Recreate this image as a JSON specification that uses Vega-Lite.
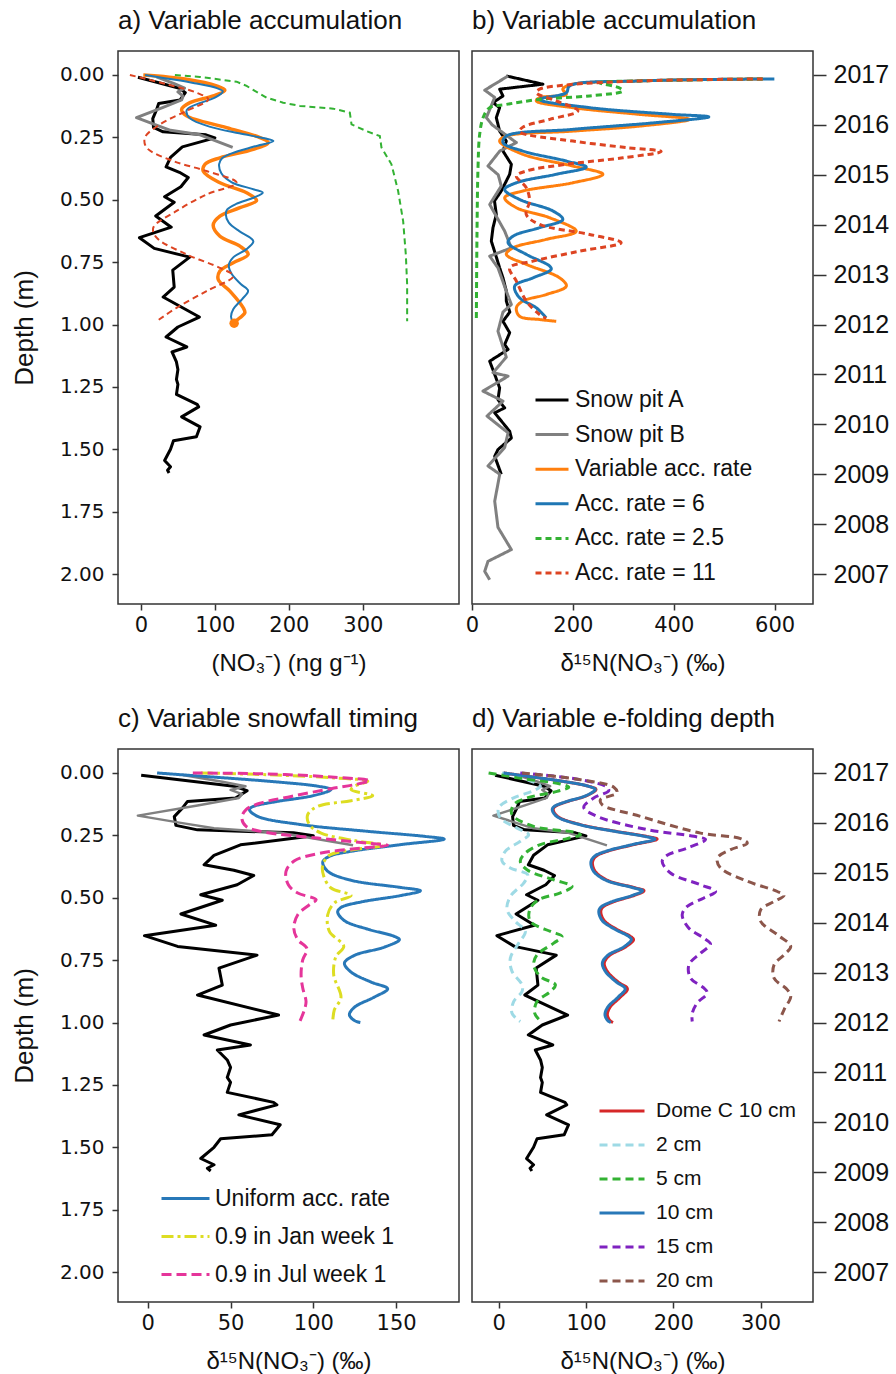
{
"$schema": "https://vega.github.io/schema/vega-lite/v6.json",
"background": "white",
"padding": {"left": 10, "top": 7, "right": 0, "bottom": 0},
"datasets": {
"pitA": [{"x":-4,"d":0.009},{"x":52,"d":0.053},{"x":60,"d":0.071},{"x":53,"d":0.1},{"x":24,"d":0.114},{"x":21,"d":0.14},{"x":16,"d":0.175},{"x":17,"d":0.21},{"x":30,"d":0.228},{"x":88,"d":0.24},{"x":100,"d":0.252},{"x":56,"d":0.288},{"x":40,"d":0.33},{"x":34,"d":0.368},{"x":52,"d":0.39},{"x":64,"d":0.411},{"x":54,"d":0.448},{"x":32,"d":0.488},{"x":45,"d":0.51},{"x":20,"d":0.565},{"x":41,"d":0.61},{"x":-2,"d":0.652},{"x":18,"d":0.695},{"x":66,"d":0.73},{"x":43,"d":0.782},{"x":45,"d":0.85},{"x":30,"d":0.89},{"x":79,"d":0.97},{"x":50,"d":1.01},{"x":34,"d":1.05},{"x":62,"d":1.09},{"x":42,"d":1.11},{"x":48,"d":1.15},{"x":50,"d":1.18},{"x":48,"d":1.22},{"x":50,"d":1.24},{"x":48,"d":1.28},{"x":76,"d":1.32},{"x":78,"d":1.33},{"x":55,"d":1.37},{"x":80,"d":1.41},{"x":75,"d":1.45},{"x":44,"d":1.466},{"x":40,"d":1.5},{"x":32,"d":1.545},{"x":40,"d":1.57},{"x":36,"d":1.584},{"x":38,"d":1.595}],
"pitB": [{"x":21,"d":0.008},{"x":45,"d":0.035},{"x":59,"d":0.053},{"x":50,"d":0.068},{"x":57,"d":0.085},{"x":55,"d":0.1},{"x":30,"d":0.13},{"x":-6,"d":0.171},{"x":20,"d":0.2},{"x":40,"d":0.222},{"x":80,"d":0.24},{"x":124,"d":0.29}],
"blue": [{"x":5.6,"d":0.0},{"x":32.2,"d":0.013},{"x":72.5,"d":0.033},{"x":102.7,"d":0.053},{"x":110.7,"d":0.066},{"x":100.6,"d":0.09},{"x":76.5,"d":0.116},{"x":63.4,"d":0.135},{"x":61.4,"d":0.147},{"x":66.4,"d":0.174},{"x":92.6,"d":0.207},{"x":132.9,"d":0.234},{"x":167.1,"d":0.254},{"x":179.1,"d":0.265},{"x":153,"d":0.287},{"x":122.8,"d":0.314},{"x":109.7,"d":0.334},{"x":105.7,"d":0.357},{"x":108.7,"d":0.394},{"x":122.8,"d":0.43},{"x":153,"d":0.459},{"x":164.7,"d":0.472},{"x":153,"d":0.491},{"x":128.8,"d":0.517},{"x":116.7,"d":0.539},{"x":114.7,"d":0.557},{"x":118.8,"d":0.592},{"x":132.9,"d":0.626},{"x":149,"d":0.655},{"x":152,"d":0.668},{"x":142.9,"d":0.698},{"x":124.8,"d":0.731},{"x":118.8,"d":0.762},{"x":122.8,"d":0.798},{"x":134.9,"d":0.838},{"x":144.9,"d":0.865},{"x":136.9,"d":0.898},{"x":124.8,"d":0.939},{"x":121.8,"d":0.969},{"x":124.8,"d":0.992},{"x":128.4,"d":1.0}],
"a_orange": [{"x":3.2,"d":0.0},{"x":61.7,"d":0.017},{"x":102.3,"d":0.044},{"x":113.5,"d":0.061},{"x":97.7,"d":0.084},{"x":66.2,"d":0.111},{"x":55,"d":0.138},{"x":61.7,"d":0.164},{"x":115.8,"d":0.211},{"x":160.8,"d":0.251},{"x":172.1,"d":0.271},{"x":151.8,"d":0.298},{"x":106.8,"d":0.332},{"x":86.5,"d":0.358},{"x":84.2,"d":0.385},{"x":106.8,"d":0.432},{"x":142.8,"d":0.472},{"x":156.3,"d":0.503},{"x":133.8,"d":0.532},{"x":106.8,"d":0.566},{"x":97.7,"d":0.602},{"x":106.8,"d":0.646},{"x":133.8,"d":0.686},{"x":145,"d":0.719},{"x":124.8,"d":0.753},{"x":106.8,"d":0.786},{"x":104.5,"d":0.82},{"x":120.3,"d":0.866},{"x":138.3,"d":0.933},{"x":140.5,"d":0.953},{"x":133.8,"d":0.973},{"x":124.8,"d":0.993}],
"a_dot": [{"x":126,"d":0.995}],
"a_green": [{"x":45.9,"d":0.0},{"x":79.7,"d":0.008},{"x":129.3,"d":0.027},{"x":142.8,"d":0.044},{"x":169.8,"d":0.091},{"x":192.3,"d":0.111},{"x":214.9,"d":0.124},{"x":259.9,"d":0.135},{"x":282.4,"d":0.151},{"x":284.7,"d":0.198},{"x":305,"d":0.225},{"x":323,"d":0.245},{"x":325.2,"d":0.291},{"x":338.7,"d":0.358},{"x":347.7,"d":0.465},{"x":354.5,"d":0.586},{"x":358.1,"d":0.719},{"x":359.9,"d":0.84},{"x":359.9,"d":0.987}],
"a_red": [{"x":-14.9,"d":0.0},{"x":34.7,"d":0.037},{"x":75.2,"d":0.071},{"x":91,"d":0.098},{"x":61.7,"d":0.144},{"x":25.7,"d":0.198},{"x":5.4,"d":0.251},{"x":7.7,"d":0.291},{"x":43.7,"d":0.345},{"x":88.7,"d":0.385},{"x":129.3,"d":0.432},{"x":88.7,"d":0.479},{"x":48.2,"d":0.545},{"x":16.7,"d":0.612},{"x":21.2,"d":0.652},{"x":61.7,"d":0.719},{"x":106.8,"d":0.773},{"x":124.8,"d":0.806},{"x":88.7,"d":0.866},{"x":48.2,"d":0.933},{"x":21.2,"d":0.987}],
"b_pitA": [{"x":68,"d":0.004},{"x":140.6,"d":0.037},{"x":54.8,"d":0.057},{"x":61.4,"d":0.084},{"x":41.6,"d":0.111},{"x":54.8,"d":0.131},{"x":48.2,"d":0.171},{"x":54.8,"d":0.225},{"x":68,"d":0.265},{"x":61.4,"d":0.305},{"x":78,"d":0.358},{"x":74.7,"d":0.398},{"x":68,"d":0.425},{"x":58,"d":0.465},{"x":44.6,"d":0.505},{"x":48.2,"d":0.559},{"x":41.6,"d":0.612},{"x":38.3,"d":0.666},{"x":44.6,"d":0.706},{"x":54.8,"d":0.773},{"x":61.4,"d":0.813},{"x":68,"d":0.866},{"x":68,"d":0.906},{"x":75,"d":0.95},{"x":61.4,"d":0.987},{"x":74.7,"d":1.033},{"x":64.8,"d":1.08},{"x":71.5,"d":1.1},{"x":35.1,"d":1.147},{"x":45,"d":1.2},{"x":54.8,"d":1.254},{"x":51.5,"d":1.301},{"x":64.8,"d":1.334},{"x":45,"d":1.354},{"x":74.7,"d":1.428},{"x":78,"d":1.455},{"x":51.5,"d":1.501},{"x":45,"d":1.528},{"x":58,"d":1.6}],
"b_pitB": [{"x":71.5,"d":0.004},{"x":25.2,"d":0.061},{"x":45,"d":0.09},{"x":28.5,"d":0.171},{"x":40,"d":0.2},{"x":87.9,"d":0.271},{"x":55,"d":0.305},{"x":31.7,"d":0.365},{"x":52,"d":0.4},{"x":58,"d":0.445},{"x":35.1,"d":0.519},{"x":64.8,"d":0.626},{"x":78,"d":0.693},{"x":35.1,"d":0.726},{"x":51.5,"d":0.773},{"x":68,"d":0.866},{"x":78,"d":0.92},{"x":61.4,"d":0.95},{"x":51.5,"d":1.027},{"x":68,"d":1.131},{"x":41.6,"d":1.193},{"x":71.5,"d":1.207},{"x":21.8,"d":1.267},{"x":61.4,"d":1.307},{"x":29.8,"d":1.367},{"x":71.5,"d":1.434},{"x":64.8,"d":1.493},{"x":31.7,"d":1.567},{"x":55,"d":1.6},{"x":45,"d":1.708},{"x":51.5,"d":1.813},{"x":78,"d":1.902},{"x":31.7,"d":1.949},{"x":25.2,"d":1.989},{"x":35.1,"d":2.023}],
"b_orange": [{"x":576.3,"d":0.016},{"x":332,"d":0.024},{"x":193.4,"d":0.04},{"x":180,"d":0.057},{"x":187,"d":0.078},{"x":134,"d":0.091},{"x":127.4,"d":0.104},{"x":200,"d":0.131},{"x":332,"d":0.158},{"x":431,"d":0.178},{"x":332,"d":0.205},{"x":200,"d":0.225},{"x":68,"d":0.245},{"x":54.8,"d":0.265},{"x":101,"d":0.318},{"x":200,"d":0.365},{"x":259.4,"d":0.398},{"x":200,"d":0.432},{"x":101,"d":0.465},{"x":64.8,"d":0.492},{"x":88,"d":0.532},{"x":153.8,"d":0.572},{"x":206.6,"d":0.626},{"x":147,"d":0.659},{"x":81.3,"d":0.693},{"x":68,"d":0.719},{"x":107.7,"d":0.759},{"x":173.7,"d":0.813},{"x":187,"d":0.846},{"x":147,"d":0.88},{"x":101,"d":0.906},{"x":88,"d":0.933},{"x":94.3,"d":0.967},{"x":134,"d":0.98},{"x":167,"d":0.987}],
"b_blue": [{"x":599.4,"d":0.016},{"x":332,"d":0.024},{"x":193.4,"d":0.044},{"x":187,"d":0.071},{"x":134,"d":0.098},{"x":233,"d":0.131},{"x":398,"d":0.158},{"x":469.4,"d":0.168},{"x":365,"d":0.191},{"x":200,"d":0.218},{"x":68,"d":0.245},{"x":61.4,"d":0.271},{"x":101,"d":0.305},{"x":187,"d":0.345},{"x":226.5,"d":0.369},{"x":167,"d":0.398},{"x":88,"d":0.432},{"x":64.8,"d":0.459},{"x":94.3,"d":0.499},{"x":160.4,"d":0.545},{"x":180,"d":0.579},{"x":134,"d":0.612},{"x":81.3,"d":0.646},{"x":71.5,"d":0.672},{"x":107.7,"d":0.719},{"x":154,"d":0.766},{"x":157,"d":0.779},{"x":121,"d":0.813},{"x":84.6,"d":0.846},{"x":94.3,"d":0.893},{"x":127.4,"d":0.933},{"x":147,"d":0.973}],
"b_green": [{"x":576.3,"d":0.016},{"x":332,"d":0.024},{"x":253,"d":0.031},{"x":290,"d":0.05},{"x":299,"d":0.064},{"x":233,"d":0.084},{"x":134,"d":0.098},{"x":68,"d":0.118},{"x":35,"d":0.131},{"x":22,"d":0.171},{"x":15.2,"d":0.238},{"x":11.9,"d":0.372},{"x":9.9,"d":0.639},{"x":8.6,"d":0.987}],
"b_red": [{"x":576.3,"d":0.016},{"x":332,"d":0.024},{"x":187,"d":0.04},{"x":134,"d":0.057},{"x":127.4,"d":0.071},{"x":167,"d":0.104},{"x":210,"d":0.144},{"x":154,"d":0.178},{"x":101,"d":0.209},{"x":94.3,"d":0.227},{"x":200,"d":0.265},{"x":305.6,"d":0.291},{"x":375,"d":0.307},{"x":299,"d":0.332},{"x":187,"d":0.358},{"x":107.6,"d":0.385},{"x":88,"d":0.405},{"x":107.6,"d":0.452},{"x":114.2,"d":0.505},{"x":107.6,"d":0.559},{"x":134,"d":0.599},{"x":233,"d":0.639},{"x":295.7,"d":0.672},{"x":213.3,"d":0.706},{"x":121,"d":0.746},{"x":74.7,"d":0.773},{"x":88,"d":0.826},{"x":107.6,"d":0.906},{"x":134,"d":0.96},{"x":147,"d":0.976}],
"c_jan": [{"x":32.2,"d":0.0},{"x":72.5,"d":0.007},{"x":112.7,"d":0.02},{"x":132.9,"d":0.033},{"x":124.8,"d":0.053},{"x":122.8,"d":0.067},{"x":135.9,"d":0.091},{"x":122.8,"d":0.111},{"x":102.7,"d":0.134},{"x":96.6,"d":0.167},{"x":97.6,"d":0.207},{"x":104.7,"d":0.241},{"x":124.8,"d":0.271},{"x":142.9,"d":0.29},{"x":124.8,"d":0.307},{"x":109.7,"d":0.33},{"x":105.7,"d":0.368},{"x":106.3,"d":0.414},{"x":110.7,"d":0.461},{"x":122.8,"d":0.491},{"x":112.7,"d":0.521},{"x":108.7,"d":0.568},{"x":109.7,"d":0.635},{"x":118.4,"d":0.695},{"x":113.7,"d":0.735},{"x":112.3,"d":0.809},{"x":116.7,"d":0.9},{"x":112.7,"d":0.949},{"x":111.7,"d":1.0}],
"c_jul": [{"x":27.2,"d":0.0},{"x":72.5,"d":0.004},{"x":112.7,"d":0.017},{"x":133.9,"d":0.031},{"x":124.8,"d":0.047},{"x":110.7,"d":0.063},{"x":86.6,"d":0.094},{"x":68.4,"d":0.12},{"x":59.4,"d":0.147},{"x":56.8,"d":0.18},{"x":59.4,"d":0.214},{"x":70.5,"d":0.237},{"x":102.7,"d":0.261},{"x":132.9,"d":0.281},{"x":144.9,"d":0.29},{"x":128.8,"d":0.301},{"x":104.7,"d":0.321},{"x":88.6,"d":0.352},{"x":83.5,"d":0.394},{"x":84.9,"d":0.448},{"x":90.6,"d":0.481},{"x":101.7,"d":0.508},{"x":97.6,"d":0.528},{"x":90.6,"d":0.568},{"x":88.2,"d":0.622},{"x":90.6,"d":0.668},{"x":96.2,"d":0.705},{"x":93.6,"d":0.749},{"x":92.6,"d":0.809},{"x":93.6,"d":0.862},{"x":95.6,"d":0.916},{"x":94.6,"d":0.949},{"x":91.6,"d":1.0}],
"d_domec": [{"x":5.6,"d":0.0},{"x":32.2,"d":0.013},{"x":72.5,"d":0.033},{"x":102.7,"d":0.053},{"x":111.5,"d":0.066},{"x":101.5,"d":0.09},{"x":77.5,"d":0.116},{"x":64.5,"d":0.135},{"x":62.5,"d":0.147},{"x":67.5,"d":0.174},{"x":94,"d":0.207},{"x":134.5,"d":0.234},{"x":169,"d":0.254},{"x":181.5,"d":0.265},{"x":155,"d":0.287},{"x":124.5,"d":0.314},{"x":111.5,"d":0.334},{"x":107.5,"d":0.357},{"x":110.5,"d":0.394},{"x":124.5,"d":0.43},{"x":155,"d":0.459},{"x":166.5,"d":0.472},{"x":155,"d":0.491},{"x":131,"d":0.517},{"x":119,"d":0.539},{"x":117,"d":0.557},{"x":121,"d":0.592},{"x":135,"d":0.626},{"x":151,"d":0.655},{"x":154.5,"d":0.668},{"x":145,"d":0.698},{"x":127,"d":0.731},{"x":121,"d":0.762},{"x":125,"d":0.798},{"x":137,"d":0.838},{"x":147.5,"d":0.865},{"x":139.5,"d":0.898},{"x":127.5,"d":0.939},{"x":124.5,"d":0.969},{"x":127.5,"d":0.992},{"x":131,"d":1.0}],
"d_2": [{"x":3.8,"d":0.0},{"x":32.5,"d":0.027},{"x":47.8,"d":0.053},{"x":40.1,"d":0.071},{"x":17.2,"d":0.1},{"x":0,"d":0.14},{"x":1.9,"d":0.18},{"x":21,"d":0.221},{"x":34.4,"d":0.247},{"x":24.8,"d":0.274},{"x":7.6,"d":0.314},{"x":3.8,"d":0.352},{"x":13.4,"d":0.381},{"x":33.3,"d":0.408},{"x":28.7,"d":0.441},{"x":13.4,"d":0.495},{"x":9.6,"d":0.548},{"x":19.1,"d":0.595},{"x":30.6,"d":0.635},{"x":22.9,"d":0.682},{"x":13.4,"d":0.742},{"x":15.3,"d":0.795},{"x":26.8,"d":0.849},{"x":26.8,"d":0.876},{"x":17.2,"d":0.916},{"x":15.3,"d":0.963},{"x":24.8,"d":0.996}],
"d_5": [{"x":-11.5,"d":0.0},{"x":28.7,"d":0.023},{"x":70.7,"d":0.044},{"x":80.3,"d":0.057},{"x":66.9,"d":0.074},{"x":32.5,"d":0.1},{"x":17.2,"d":0.127},{"x":15.3,"d":0.167},{"x":40.1,"d":0.214},{"x":86,"d":0.237},{"x":93.7,"d":0.247},{"x":78.4,"d":0.263},{"x":47.8,"d":0.287},{"x":30.6,"d":0.321},{"x":24.8,"d":0.354},{"x":32.5,"d":0.388},{"x":63.1,"d":0.428},{"x":84.1,"d":0.455},{"x":70.7,"d":0.481},{"x":45.9,"d":0.508},{"x":35.6,"d":0.548},{"x":36.3,"d":0.595},{"x":59.3,"d":0.635},{"x":72.6,"d":0.655},{"x":63.1,"d":0.682},{"x":44,"d":0.729},{"x":40.1,"d":0.769},{"x":47.8,"d":0.816},{"x":65,"d":0.849},{"x":59.3,"d":0.876},{"x":44,"d":0.916},{"x":41.3,"d":0.963},{"x":47.8,"d":0.993}],
"d_15": [{"x":24.8,"d":0.0},{"x":93.7,"d":0.027},{"x":124.2,"d":0.057},{"x":126.1,"d":0.071},{"x":108.9,"d":0.1},{"x":97.5,"d":0.138},{"x":112.8,"d":0.174},{"x":170.1,"d":0.227},{"x":223.6,"d":0.254},{"x":237,"d":0.267},{"x":216,"d":0.301},{"x":193,"d":0.33},{"x":187.3,"d":0.354},{"x":196.8,"d":0.401},{"x":231.3,"d":0.448},{"x":248.5,"d":0.475},{"x":235.1,"d":0.501},{"x":216,"d":0.535},{"x":210.2,"d":0.568},{"x":217.9,"d":0.622},{"x":235.1,"d":0.662},{"x":242.7,"d":0.686},{"x":231.3,"d":0.722},{"x":217.9,"d":0.769},{"x":219.8,"d":0.822},{"x":235.1,"d":0.862},{"x":238.9,"d":0.882},{"x":227.4,"d":0.922},{"x":221.7,"d":0.963},{"x":221.7,"d":0.996}],
"d_20": [{"x":26.8,"d":0.0},{"x":93.7,"d":0.027},{"x":131.9,"d":0.057},{"x":135.7,"d":0.08},{"x":116.6,"d":0.107},{"x":118.5,"d":0.127},{"x":162.5,"d":0.174},{"x":231.3,"d":0.241},{"x":277.1,"d":0.263},{"x":284.8,"d":0.281},{"x":265.7,"d":0.307},{"x":250.4,"d":0.341},{"x":254.2,"d":0.381},{"x":284.8,"d":0.434},{"x":319.2,"d":0.475},{"x":326.8,"d":0.491},{"x":315.4,"d":0.515},{"x":300.1,"d":0.548},{"x":300.1,"d":0.595},{"x":319.2,"d":0.648},{"x":334.5,"d":0.695},{"x":326.8,"d":0.729},{"x":315.4,"d":0.769},{"x":315.4,"d":0.822},{"x":330.7,"d":0.869},{"x":334.5,"d":0.896},{"x":326.8,"d":0.949},{"x":321.1,"d":0.996}]
},
"columns": 2,
"spacing": {"row": 145, "column": 13},
"bounds": "flush",
"resolve": {"scale": {"x": "independent", "y": "independent", "color": "independent", "strokeDash": "independent", "strokeWidth": "independent"}},
"concat": [
{
"width": 341, "height": 553,
"title": {"text": "a) Variable accumulation"},
"encoding": {
"x": {"field": "x", "type": "quantitative", "scale": {"domain": [-31, 430], "nice": false, "zero": false}, "axis": {"values": [0, 100, 200, 300], "title": "(NO₃⁻) (ng g⁻¹)"}},
"y": {"field": "d", "type": "quantitative", "scale": {"domain": [-0.096, 2.12], "reverse": true, "nice": false, "zero": false}, "axis": {"values": [0, 0.25, 0.5, 0.75, 1, 1.25, 1.5, 1.75, 2], "format": ".2f", "title": "Depth (m)"}},
"order": {"field": "d", "type": "quantitative"}
},
"layer": [
{"data": {"name": "pitA"}, "mark": {"type": "line", "color": "#000000", "strokeWidth": 3, "strokeJoin": "round"}, "encoding": {}},
{"data": {"name": "pitB"}, "mark": {"type": "line", "color": "#808080", "strokeWidth": 3, "strokeJoin": "round"}, "encoding": {}},
{"data": {"name": "a_orange"}, "mark": {"type": "line", "color": "#ff7f0e", "strokeWidth": 3.5, "interpolate": "catmull-rom"}, "encoding": {}},
{"data": {"name": "blue"}, "mark": {"type": "line", "color": "#1f77b4", "strokeWidth": 2, "interpolate": "catmull-rom"}, "encoding": {}},
{"data": {"name": "a_green"}, "mark": {"type": "line", "color": "#33b233", "strokeWidth": 2, "strokeDash": [6, 4]}, "encoding": {}},
{"data": {"name": "a_red"}, "mark": {"type": "line", "color": "#dd4422", "strokeWidth": 2, "strokeDash": [6, 4], "interpolate": "catmull-rom"}, "encoding": {}},
{"data": {"name": "a_dot"}, "mark": {"type": "point", "filled": true, "color": "#ff7f0e", "size": 90, "opacity": 1}, "encoding": {}}
]
},
{
"width": 341, "height": 553,
"title": {"text": "b) Variable accumulation"},
"encoding": {
"x": {"field": "x", "type": "quantitative", "scale": {"domain": [0, 676], "nice": false, "zero": false}, "axis": {"values": [0, 200, 400, 600], "title": "δ¹⁵N(NO₃⁻) (‰)"}},
"y": {"field": "d", "type": "quantitative", "scale": {"domain": [-0.096, 2.12], "reverse": true, "nice": false, "zero": false}, "axis": {"orient": "right", "values": [0, 0.2, 0.4, 0.6, 0.8, 1, 1.2, 1.4, 1.6, 1.8, 2], "labelExpr": "'' + round(2017 - datum.value * 5)", "labelFont": "Liberation Sans", "labelFontSize": 25, "tickSize": 13, "labelPadding": 7, "title": null}},
"order": {"field": "d", "type": "quantitative"}
},
"layer": [
{"data": {"name": "b_pitA"}, "mark": {"type": "line", "strokeJoin": "round"}, "encoding": {
"color": {"datum": "Snow pit A", "type": "nominal", "scale": {"domain": ["Snow pit A", "Snow pit B", "Variable acc. rate", "Acc. rate = 6", "Acc. rate = 2.5", "Acc. rate = 11"], "range": ["#000000", "#808080", "#ff7f0e", "#1f77b4", "#33b233", "#dd4422"]}, "legend": {"title": null, "orient": "none", "legendX": 62, "legendY": 331, "symbolSize": 1089, "labelFontSize": 23, "rowPadding": 4.6, "labelOffset": 5, "labelLimit": 400}},
"strokeDash": {"datum": "Snow pit A", "type": "nominal", "scale": {"domain": ["Snow pit A", "Snow pit B", "Variable acc. rate", "Acc. rate = 6", "Acc. rate = 2.5", "Acc. rate = 11"], "range": [[1, 0], [1, 0], [1, 0], [1, 0], [6, 4], [6, 4]]}, "legend": {"title": null, "orient": "none", "legendX": 62, "legendY": 331, "symbolSize": 1089, "labelFontSize": 23, "rowPadding": 4.6, "labelOffset": 5, "labelLimit": 400}},
"strokeWidth": {"datum": "Snow pit A", "type": "ordinal", "scale": {"domain": ["Snow pit A", "Snow pit B", "Variable acc. rate", "Acc. rate = 6", "Acc. rate = 2.5", "Acc. rate = 11"], "range": [3, 3, 3.5, 2, 2, 2]}, "legend": {"title": null, "orient": "none", "legendX": 62, "legendY": 331, "symbolSize": 1089, "labelFontSize": 23, "rowPadding": 4.6, "labelOffset": 5, "labelLimit": 400}}
}},
{"data": {"name": "b_pitB"}, "mark": {"type": "line", "strokeJoin": "round"}, "encoding": {
"color": {"datum": "Snow pit B", "type": "nominal"},
"strokeDash": {"datum": "Snow pit B", "type": "nominal"},
"strokeWidth": {"datum": "Snow pit B", "type": "ordinal"}
}},
{"data": {"name": "b_orange"}, "mark": {"type": "line", "interpolate": "catmull-rom"}, "encoding": {
"color": {"datum": "Variable acc. rate", "type": "nominal"},
"strokeDash": {"datum": "Variable acc. rate", "type": "nominal"},
"strokeWidth": {"datum": "Variable acc. rate", "type": "ordinal"}
}},
{"data": {"name": "b_blue"}, "mark": {"type": "line", "interpolate": "catmull-rom"}, "encoding": {
"color": {"datum": "Acc. rate = 6", "type": "nominal"},
"strokeDash": {"datum": "Acc. rate = 6", "type": "nominal"},
"strokeWidth": {"datum": "Acc. rate = 6", "type": "ordinal"}
}},
{"data": {"name": "b_green"}, "mark": {"type": "line", "interpolate": "catmull-rom"}, "encoding": {
"color": {"datum": "Acc. rate = 2.5", "type": "nominal"},
"strokeDash": {"datum": "Acc. rate = 2.5", "type": "nominal"},
"strokeWidth": {"datum": "Acc. rate = 2.5", "type": "ordinal"}
}},
{"data": {"name": "b_red"}, "mark": {"type": "line", "interpolate": "catmull-rom"}, "encoding": {
"color": {"datum": "Acc. rate = 11", "type": "nominal"},
"strokeDash": {"datum": "Acc. rate = 11", "type": "nominal"},
"strokeWidth": {"datum": "Acc. rate = 11", "type": "ordinal"}
}}
]
},
{
"width": 341, "height": 553,
"title": {"text": "c) Variable snowfall timing"},
"encoding": {
"x": {"field": "x", "type": "quantitative", "scale": {"domain": [-18, 188], "nice": false, "zero": false}, "axis": {"values": [0, 50, 100, 150], "title": "δ¹⁵N(NO₃⁻) (‰)"}},
"y": {"field": "d", "type": "quantitative", "scale": {"domain": [-0.096, 2.12], "reverse": true, "nice": false, "zero": false}, "axis": {"values": [0, 0.25, 0.5, 0.75, 1, 1.25, 1.5, 1.75, 2], "format": ".2f", "title": "Depth (m)"}},
"order": {"field": "d", "type": "quantitative"}
},
"layer": [
{"data": {"name": "pitA"}, "mark": {"type": "line", "color": "#000000", "strokeWidth": 3, "strokeJoin": "round"}, "encoding": {}},
{"data": {"name": "pitB"}, "mark": {"type": "line", "color": "#808080", "strokeWidth": 2.5, "strokeJoin": "round"}, "encoding": {}},
{"data": {"name": "blue"}, "mark": {"type": "line", "strokeWidth": 3, "interpolate": "catmull-rom"}, "encoding": {
"color": {"datum": "Uniform acc. rate", "type": "nominal", "scale": {"domain": ["Uniform acc. rate", "0.9 in Jan week 1", "0.9 in Jul week 1"], "range": ["#2878b8", "#dddd22", "#e5359a"]}, "legend": {"title": null, "orient": "none", "legendX": 42, "legendY": 424, "symbolSize": 2304, "labelFontSize": 23, "rowPadding": -10.5, "labelOffset": 4, "symbolStrokeWidth": 3, "labelLimit": 400}},
"strokeDash": {"datum": "Uniform acc. rate", "type": "nominal", "scale": {"domain": ["Uniform acc. rate", "0.9 in Jan week 1", "0.9 in Jul week 1"], "range": [[1, 0], [12, 4, 3, 4], [10, 5]]}, "legend": {"title": null, "orient": "none", "legendX": 42, "legendY": 424, "symbolSize": 2304, "labelFontSize": 23, "rowPadding": -10.5, "labelOffset": 4, "symbolStrokeWidth": 3, "labelLimit": 400}}
}},
{"data": {"name": "c_jan"}, "mark": {"type": "line", "strokeWidth": 3, "interpolate": "catmull-rom"}, "encoding": {
"color": {"datum": "0.9 in Jan week 1", "type": "nominal"},
"strokeDash": {"datum": "0.9 in Jan week 1", "type": "nominal"}
}},
{"data": {"name": "c_jul"}, "mark": {"type": "line", "strokeWidth": 3, "interpolate": "catmull-rom"}, "encoding": {
"color": {"datum": "0.9 in Jul week 1", "type": "nominal"},
"strokeDash": {"datum": "0.9 in Jul week 1", "type": "nominal"}
}}
]
},
{
"width": 341, "height": 553,
"title": {"text": "d) Variable e-folding depth"},
"encoding": {
"x": {"field": "x", "type": "quantitative", "scale": {"domain": [-30.5, 360], "nice": false, "zero": false}, "axis": {"values": [0, 100, 200, 300], "title": "δ¹⁵N(NO₃⁻) (‰)"}},
"y": {"field": "d", "type": "quantitative", "scale": {"domain": [-0.096, 2.12], "reverse": true, "nice": false, "zero": false}, "axis": {"orient": "right", "values": [0, 0.2, 0.4, 0.6, 0.8, 1, 1.2, 1.4, 1.6, 1.8, 2], "labelExpr": "'' + round(2017 - datum.value * 5)", "labelFont": "Liberation Sans", "labelFontSize": 25, "tickSize": 13, "labelPadding": 7, "title": null}},
"order": {"field": "d", "type": "quantitative"}
},
"layer": [
{"data": {"name": "pitA"}, "mark": {"type": "line", "color": "#000000", "strokeWidth": 3, "strokeJoin": "round"}, "encoding": {}},
{"data": {"name": "pitB"}, "mark": {"type": "line", "color": "#808080", "strokeWidth": 2.5, "strokeJoin": "round"}, "encoding": {}},
{"data": {"name": "d_domec"}, "mark": {"type": "line", "strokeWidth": 3, "interpolate": "catmull-rom"}, "encoding": {
"color": {"datum": "Dome C 10 cm", "type": "nominal", "scale": {"domain": ["Dome C 10 cm", "2 cm", "5 cm", "10 cm", "15 cm", "20 cm"], "range": ["#d62728", "#9edae5", "#33b233", "#2878b8", "#7f22c0", "#8c564b"]}, "legend": {"title": null, "orient": "none", "legendX": 126, "legendY": 338, "symbolSize": 2025, "labelFontSize": 21, "rowPadding": -13, "labelOffset": 10, "symbolStrokeWidth": 3, "labelLimit": 400}},
"strokeDash": {"datum": "Dome C 10 cm", "type": "nominal", "scale": {"domain": ["Dome C 10 cm", "2 cm", "5 cm", "10 cm", "15 cm", "20 cm"], "range": [[1, 0], [8, 5], [8, 5], [1, 0], [8, 5], [8, 5]]}, "legend": {"title": null, "orient": "none", "legendX": 126, "legendY": 338, "symbolSize": 2025, "labelFontSize": 21, "rowPadding": -13, "labelOffset": 10, "symbolStrokeWidth": 3, "labelLimit": 400}}
}},
{"data": {"name": "d_2"}, "mark": {"type": "line", "strokeWidth": 3, "interpolate": "catmull-rom"}, "encoding": {
"color": {"datum": "2 cm", "type": "nominal"},
"strokeDash": {"datum": "2 cm", "type": "nominal"}
}},
{"data": {"name": "d_5"}, "mark": {"type": "line", "strokeWidth": 3, "interpolate": "catmull-rom"}, "encoding": {
"color": {"datum": "5 cm", "type": "nominal"},
"strokeDash": {"datum": "5 cm", "type": "nominal"}
}},
{"data": {"name": "blue"}, "mark": {"type": "line", "strokeWidth": 3, "interpolate": "catmull-rom"}, "encoding": {
"color": {"datum": "10 cm", "type": "nominal"},
"strokeDash": {"datum": "10 cm", "type": "nominal"}
}},
{"data": {"name": "d_15"}, "mark": {"type": "line", "strokeWidth": 3, "interpolate": "catmull-rom"}, "encoding": {
"color": {"datum": "15 cm", "type": "nominal"},
"strokeDash": {"datum": "15 cm", "type": "nominal"}
}},
{"data": {"name": "d_20"}, "mark": {"type": "line", "strokeWidth": 3, "interpolate": "catmull-rom"}, "encoding": {
"color": {"datum": "20 cm", "type": "nominal"},
"strokeDash": {"datum": "20 cm", "type": "nominal"}
}}
]
}
],
"config": {
"view": {"stroke": "#333333", "strokeWidth": 1.5},
"axis": {"domain": false, "grid": false, "tickColor": "#333333", "tickWidth": 1.5, "tickSize": 6, "labelFont": "DejaVu Sans", "labelColor": "#111111", "titleFont": "Liberation Sans", "titleFontWeight": "normal", "titleColor": "#111111", "labelFlush": false, "labelOverlap": false},
"axisX": {"labelFontSize": 21, "labelPadding": 4, "titleFontSize": 24, "titlePadding": 16},
"axisY": {"labelFontSize": 20, "labelPadding": 8, "titleFontSize": 26, "titlePadding": 22},
"title": {"anchor": "start", "frame": "group", "font": "Liberation Sans", "fontSize": 26, "fontWeight": "normal", "color": "#111111", "baseline": "alphabetic", "offset": 17},
"legend": {"labelFont": "Liberation Sans", "labelColor": "#111111", "padding": 0, "symbolType": "stroke"}
}
}
